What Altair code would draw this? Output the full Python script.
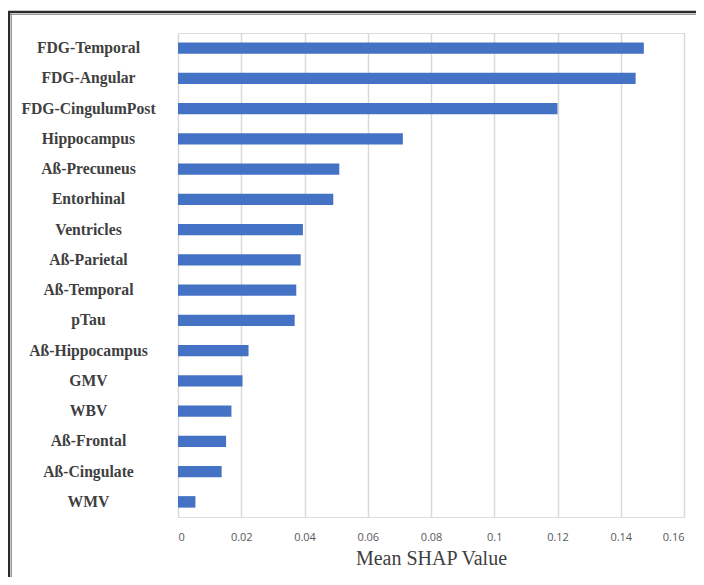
import altair as alt
import pandas as pd

features = ["FDG-Temporal", "FDG-Angular", "FDG-CingulumPost", "Hippocampus",
            "Aß-Precuneus", "Entorhinal", "Ventricles", "Aß-Parietal",
            "Aß-Temporal", "pTau", "Aß-Hippocampus", "GMV", "WBV",
            "Aß-Frontal", "Aß-Cingulate", "WMV"]
shap = [0.1473, 0.1447, 0.1200, 0.0711, 0.0510, 0.0491, 0.0395, 0.0388,
        0.0374, 0.0369, 0.0223, 0.0204, 0.0169, 0.0152, 0.0138, 0.0055]
ticks = [0, 0.02, 0.04, 0.06, 0.08, 0.10, 0.12, 0.14, 0.16]

df = pd.DataFrame({"feature": features, "shap": shap})

W, H = 506, 484

bars = alt.Chart(df).mark_bar(color="#4472C4").encode(
    x=alt.X("shap:Q",
            scale=alt.Scale(domain=[0, 0.16], nice=False, zero=True),
            axis=alt.Axis(values=ticks, format="~g", title="Mean SHAP Value",
                          grid=True, gridColor="#D9D9D9", gridWidth=1.5,
                          domain=False, ticks=False,
                          labelFont="Open Sans", labelFontSize=11,
                          labelColor="#595959", labelPadding=14,
                          titleFont="Liberation Serif", titleFontSize=20,
                          titleFontWeight="normal", titleColor="#404040",
                          titlePadding=6)),
    y=alt.Y("feature:N", sort=features,
            scale=alt.Scale(paddingInner=0.62, paddingOuter=0.31),
            axis=alt.Axis(title=None, domain=False, ticks=False, grid=False,
                          labelAlign="center", labelPadding=90,
                          labelFont="Liberation Serif", labelFontSize=15.7,
                          labelFontWeight="bold", labelColor="#3f3f3f")),
)

frame_df = pd.DataFrame({"k": [0]})
top_dark = alt.Chart(frame_df).mark_rule(color="#2b2b2b", strokeWidth=2.5).encode(
    x=alt.value(-171), x2=alt.value(540), y=alt.value(-21))
top_light = alt.Chart(frame_df).mark_rule(color="#9a9a9a", strokeWidth=1).encode(
    x=alt.value(-168), x2=alt.value(540), y=alt.value(-18.5))
left_dark = alt.Chart(frame_df).mark_rule(color="#2b2b2b", strokeWidth=2.5).encode(
    x=alt.value(-169), y=alt.value(-22), y2=alt.value(600))
left_light = alt.Chart(frame_df).mark_rule(color="#9a9a9a", strokeWidth=1).encode(
    x=alt.value(-166.5), y=alt.value(-19), y2=alt.value(600))

chart = alt.layer(bars, top_dark, top_light, left_dark, left_light).properties(
    width=W, height=H,
    autosize="none",
    padding={"left": 170, "top": 25, "right": 12, "bottom": 60},
).configure_view(stroke=None).configure(background="white")

chart.save("out.html", embed_options={"renderer": "svg", "actions": False})
